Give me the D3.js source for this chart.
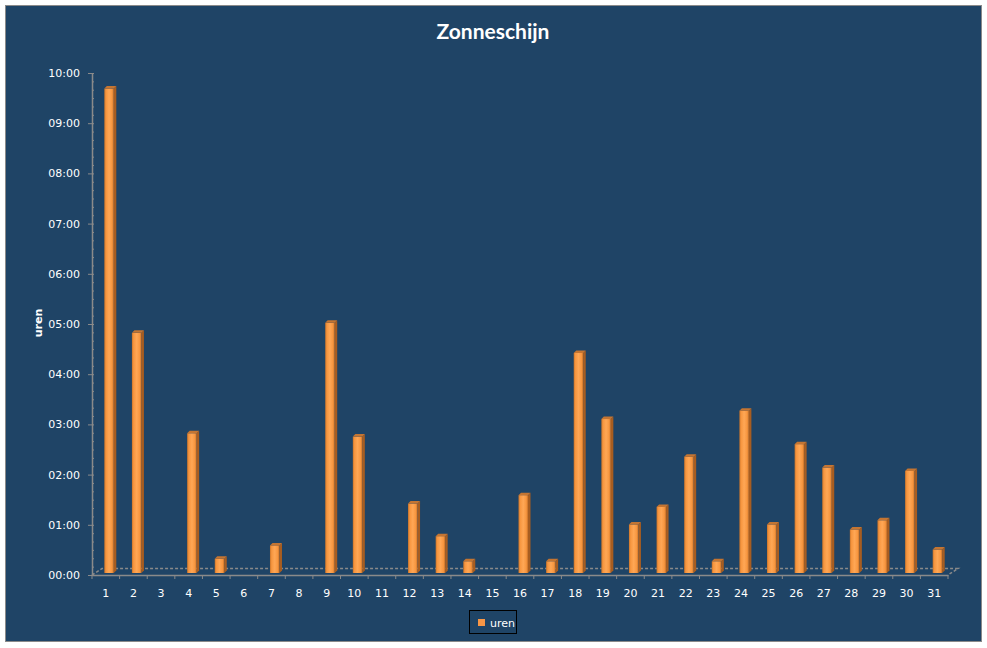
<!DOCTYPE html>
<html>
<head>
<meta charset="utf-8">
<script src="https://cdn.jsdelivr.net/npm/d3@7"></script>
<style>
  body { margin: 0; background: #ffffff; }
  svg { display: block; }
  text { font-family: "DejaVu Sans", sans-serif; }
</style>
</head>
<body>
<div class="chart"></div>
<script>
// Data
var days = d3.range(1, 32);
var uren = ["9:42", "4:50", "0:00", "2:50", "0:20", "0:00", "0:36", "0:00", "5:02", "2:46",
            "0:00", "1:26", "0:47", "0:17", "0:00", "1:36", "0:17", "4:26", "3:07", "1:01",
            "1:22", "2:22", "0:17", "3:17", "1:01", "2:37", "2:09", "0:55", "1:06", "2:05",
            "0:31"];
var yTicks = d3.range(0, 11);

// "h:mm" -> hours
function toHours(s) {
  var p = s.split(":");
  return +p[0] + (+p[1]) / 60;
}
var values = uren.map(toHours);

// Configuration
var width = 987;
var height = 648;
var plotLeft = 92, plotRight = 948, plotBase = 575, plotTop = 73;
var depthX = 10, depthY = 6.5;

var svg = d3.select(".chart").append("svg")
    .attr("width", width)
    .attr("height", height);

var defs = svg.append("defs");

// cylinder-ish shading for the bar fronts
var grad = defs.append("linearGradient")
    .attr("id", "barFront")
    .attr("x1", "0%").attr("x2", "100%")
    .attr("y1", "0%").attr("y2", "0%");
grad.append("stop").attr("offset", "0%").attr("stop-color", "#c9752c");
grad.append("stop").attr("offset", "18%").attr("stop-color", "#f7963f");
grad.append("stop").attr("offset", "50%").attr("stop-color", "#ffa755");
grad.append("stop").attr("offset", "82%").attr("stop-color", "#f7963f");
grad.append("stop").attr("offset", "100%").attr("stop-color", "#c46f27");

// chart area
svg.append("rect")
    .attr("x", 5.5).attr("y", 5.5)
    .attr("width", 976).attr("height", 636)
    .attr("fill", "#1f4466")
    .attr("stroke", "#8a8a8a")
    .attr("stroke-width", 1);

// title
svg.append("text")
    .attr("x", 493)
    .attr("y", 39)
    .attr("text-anchor", "middle")
    .style("font-family", "Lato, sans-serif")
    .style("font-weight", "bold")
    .style("font-size", "21px")
    .attr("fill", "#ffffff")
    .text("Zonneschijn");

// scales
var x = d3.scaleBand()
    .domain(days)
    .range([plotLeft, plotRight])
    .paddingInner(0)
    .paddingOuter(0);

var y = d3.scaleLinear()
    .domain([0, 10])
    .range([plotBase, plotTop]);

// 3D floor (back + sides dashed)
svg.append("path")
    .attr("d", "M" + plotLeft + "," + plotBase +
               "L" + (plotLeft + depthX) + "," + (plotBase - depthY) +
               "L" + (plotRight + depthX) + "," + (plotBase - depthY) +
               "L" + plotRight + "," + plotBase)
    .attr("fill", "none")
    .attr("stroke", "#8a8a8a")
    .attr("stroke-width", 1.5)
    .attr("stroke-dasharray", "3,2");

// y axis minor ticks (every 10 minutes)
svg.append("g")
    .attr("transform", "translate(" + plotLeft + ",0)")
    .call(d3.axisLeft(y)
        .tickValues(d3.range(0, 60.5).map(function(d) { return d / 6; }))
        .tickSize(-2)
        .tickSizeOuter(0)
        .tickFormat(""))
    .call(function(g) {
      g.select(".domain").remove();
      g.selectAll("line").attr("stroke", "#8a8a8a");
    });

// y axis
var yAxis = svg.append("g")
    .attr("transform", "translate(" + plotLeft + ",0)")
    .call(d3.axisLeft(y)
        .tickValues(yTicks)
        .tickSize(4)
        .tickSizeOuter(0)
        .tickPadding(8)
        .tickFormat(function(d) { return d3.format("02d")(d) + ":00"; }));
yAxis.select(".domain").attr("stroke", "#8a8a8a").attr("stroke-width", 1.5);
yAxis.selectAll("line").attr("stroke", "#8a8a8a");
yAxis.selectAll("text")
    .attr("fill", "#ffffff")
    .style("font-size", "11px");

// y axis title
svg.append("text")
    .attr("transform", "translate(42,323) rotate(-90)")
    .attr("text-anchor", "middle")
    .style("font-weight", "bold")
    .style("font-size", "11px")
    .attr("fill", "#ffffff")
    .text("uren");

// x axis
var xAxis = svg.append("g")
    .attr("transform", "translate(0," + plotBase + ")")
    .call(d3.axisBottom(x)
        .tickSize(0)
        .tickPadding(14));
xAxis.select(".domain").attr("stroke", "#8a8a8a").attr("stroke-width", 1.5);
xAxis.selectAll("text")
    .attr("fill", "#ffffff")
    .style("font-size", "11px");

// category boundary ticks
svg.append("g").selectAll("line")
    .data(days.concat([null]))
    .enter().append("line")
    .attr("x1", function(d) { return d === null ? plotRight : x(d); })
    .attr("x2", function(d) { return d === null ? plotRight : x(d); })
    .attr("y1", plotBase)
    .attr("y2", plotBase + 4)
    .attr("stroke", "#8a8a8a");

// bars (cap top sits at y(v) - lift)
var bw = 9.5, sx = 2.5, sy = 2.5, lift = 2;
var bars = svg.append("g").selectAll("g")
    .data(values.map(function(v, i) { return {day: days[i], v: v}; })
      .filter(function(d) { return d.v > 0; }))
    .enter().append("g");

function bx(d) { return x(d.day) + x.bandwidth() / 2 - 1.5; }
function btop(d) { return y(d.v) - lift + sy; }

// side face
bars.append("path")
    .attr("d", function(d) {
      var x0 = bx(d) + bw, t = btop(d), b = plotBase - lift;
      return "M" + x0 + "," + t + "L" + (x0 + sx) + "," + (t - sy) +
             "L" + (x0 + sx) + "," + (b - sy) + "L" + x0 + "," + b + "Z";
    })
    .attr("fill", "#a85d20");

// front face
bars.append("rect")
    .attr("x", bx)
    .attr("y", btop)
    .attr("width", bw)
    .attr("height", function(d) { return plotBase - lift - btop(d); })
    .attr("fill", "url(#barFront)");

// top cap
bars.append("path")
    .attr("d", function(d) {
      var x0 = bx(d), t = btop(d);
      return "M" + x0 + "," + t + "L" + (x0 + sx) + "," + (t - sy) +
             "L" + (x0 + bw + sx) + "," + (t - sy) + "L" + (x0 + bw) + "," + t + "Z";
    })
    .attr("fill", "#c47532");

// legend
var legend = svg.append("g");
legend.append("rect")
    .attr("x", 469.5).attr("y", 610.5)
    .attr("width", 47).attr("height", 23)
    .attr("fill", "none")
    .attr("stroke", "#000000");
legend.append("rect")
    .attr("x", 478).attr("y", 619)
    .attr("width", 7).attr("height", 7)
    .attr("fill", "#f79646");
legend.append("text")
    .attr("x", 490).attr("y", 627)
    .style("font-size", "11px")
    .attr("fill", "#ffffff")
    .text("uren");
</script>
</body>
</html>
